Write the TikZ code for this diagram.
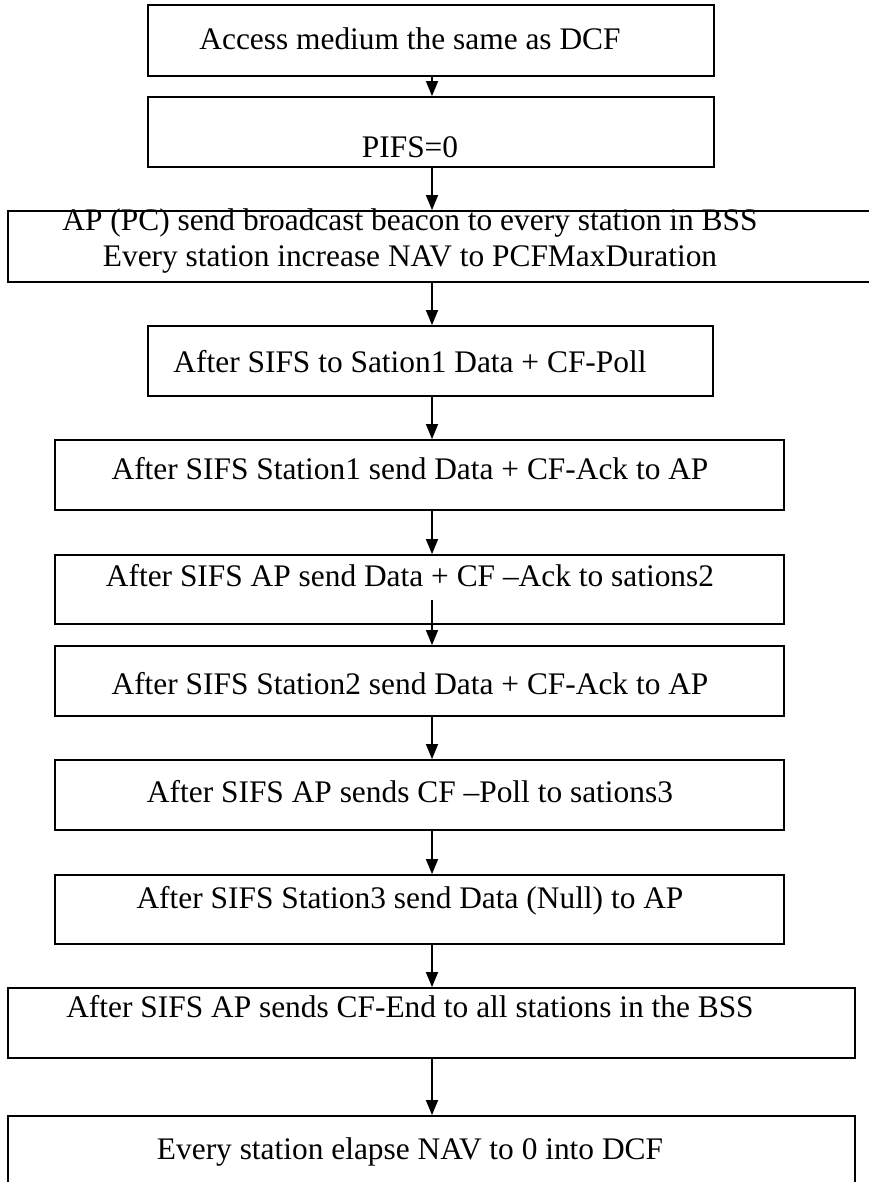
\documentclass[tikz,border=0pt]{standalone}
\usepackage{fontspec}
\setmainfont{Liberation Serif}
\usetikzlibrary{arrows.meta}

\begin{document}
\begin{tikzpicture}[x=0.5pt,y=-0.5pt,>={Triangle[length=7.5pt,width=6pt]},
  stepbox/.style={draw,line width=0.9pt,inner sep=0pt},
  steptext/.style={anchor=base,inner sep=0pt,font=\fontsize{15.7}{18}\selectfont},
  flow/.style={->,line width=0.7pt}]
  \useasboundingbox (0,0) rectangle (868,1182);
  % boxes
  \node[stepbox,minimum width=283pt,minimum height=35.5pt] (b1) at (431,40.5) {};
  \node[stepbox,minimum width=283pt,minimum height=35pt] (b2) at (431,132) {};
  \node[stepbox,minimum width=436pt,minimum height=35.5pt] (b3) at (444,246.5) {};
  \node[stepbox,minimum width=282.5pt,minimum height=35pt] (b4) at (430.5,361) {};
  \node[stepbox,minimum width=364.5pt,minimum height=35pt] (b5) at (419.5,475) {};
  \node[stepbox,minimum width=364.5pt,minimum height=34.5pt] (b6) at (419.5,589.5) {};
  \node[stepbox,minimum width=364.5pt,minimum height=35pt] (b7) at (419.5,681) {};
  \node[stepbox,minimum width=364.5pt,minimum height=35pt] (b8) at (419.5,795) {};
  \node[stepbox,minimum width=364.5pt,minimum height=34.5pt] (b9) at (419.5,909.5) {};
  \node[stepbox,minimum width=423.5pt,minimum height=35pt] (b10) at (431.5,1023) {};
  \node[stepbox,minimum width=423.5pt,minimum height=37pt] (b11) at (431.5,1153) {};
  % texts
  \node[steptext] (t1) at (410,50) {Access medium the same as DCF};
  \node[steptext] (t2) at (410,158) {PIFS=0};
  \node[steptext] (t3a) at (410,231) {AP (PC) send broadcast beacon to every station in BSS};
  \node[steptext] (t3b) at (410,266) {Every station increase NAV to PCFMaxDuration};
  \node[steptext] (t4) at (410,372) {After SIFS to Sation1 Data + CF-Poll};
  \node[steptext] (t5) at (410,479) {After SIFS Station1 send Data + CF-Ack to AP};
  \node[steptext] (t6) at (410,586) {After SIFS AP send Data + CF –Ack to sations2};
  \node[steptext] (t7) at (410,694) {After SIFS Station2 send Data + CF-Ack to AP};
  \node[steptext] (t8) at (410,802) {After SIFS AP sends CF –Poll to sations3};
  \node[steptext] (t9) at (410,908) {After SIFS Station3 send Data (Null) to AP};
  \node[steptext] (t10) at (410,1017) {After SIFS AP sends CF-End to all stations in the BSS};
  \node[steptext] (t11) at (410,1159) {Every station elapse NAV to 0 into DCF};
  % arrows
  \coordinate (ax) at (432,0);
  \coordinate (a6) at (432,600);
  \draw[flow] (b1.south -| ax) -- (b2.north -| ax);
  \draw[flow] (b2.south -| ax) -- (b3.north -| ax);
  \draw[flow] (b3.south -| ax) -- (b4.north -| ax);
  \draw[flow] (b4.south -| ax) -- (b5.north -| ax);
  \draw[flow] (b5.south -| ax) -- (b6.north -| ax);
  \draw[flow] (a6) -- (b7.north -| ax);
  \draw[flow] (b7.south -| ax) -- (b8.north -| ax);
  \draw[flow] (b8.south -| ax) -- (b9.north -| ax);
  \draw[flow] (b9.south -| ax) -- (b10.north -| ax);
  \draw[flow] (b10.south -| ax) -- (b11.north -| ax);
\end{tikzpicture}
\end{document}
